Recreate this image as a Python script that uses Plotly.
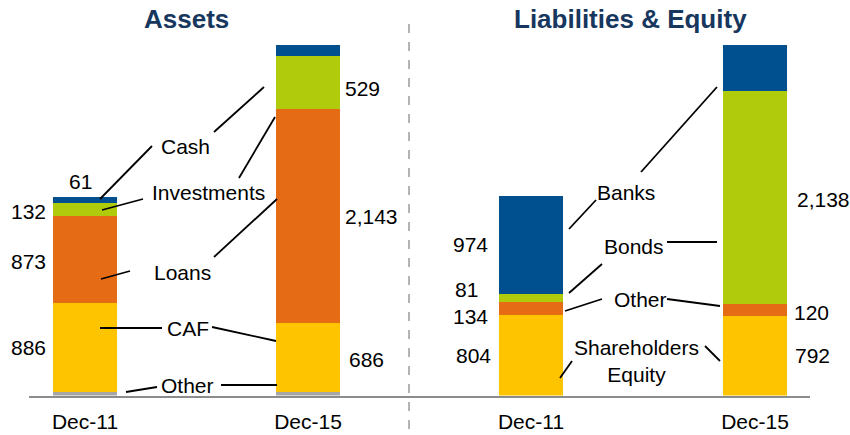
import plotly.graph_objects as go

# ---------------- data ----------------
categories = ["Dec-11", "Dec-15"]

assets_other = [35, 35]
assets_caf = [886, 686]
assets_loans = [873, 2143]
assets_investments = [132, 529]
assets_cash = [61, 110]

liab_equity = [804, 792]
liab_other = [134, 120]
liab_bonds = [81, 2138]
liab_banks = [974, 453]

# ---------------- styles ----------------
W, H = 850, 435
YELLOW = "#FFC400"
ORANGE = "#E56B14"
GREEN = "#B0CB0C"
BLUE = "#00508F"
GREY = "#A6A6A6"
FONT = "Arial, Liberation Sans, sans-serif"
FS = 21
BAR_W = 0.285

fig = go.Figure()

assets_series = [("Other", assets_other, GREY), ("CAF", assets_caf, YELLOW),
                 ("Loans", assets_loans, ORANGE), ("Investments", assets_investments, GREEN),
                 ("Cash", assets_cash, BLUE)]
liab_series = [("Shareholders Equity", liab_equity, YELLOW), ("Other", liab_other, ORANGE),
               ("Bonds", liab_bonds, GREEN), ("Banks", liab_banks, BLUE)]

for name, vals, col in assets_series:
    fig.add_trace(go.Bar(x=categories, y=vals, name=name, marker_color=col,
                         marker_line_width=0, width=BAR_W, xaxis="x", yaxis="y",
                         showlegend=False, hoverinfo="skip"))
for name, vals, col in liab_series:
    fig.add_trace(go.Bar(x=categories, y=vals, name=name, marker_color=col,
                         marker_line_width=0, width=BAR_W, xaxis="x2", yaxis="y2",
                         showlegend=False, hoverinfo="skip"))

# ---------------- value labels (placed from data) ----------------
def mids(series_list):
    out = []
    for i in range(len(categories)):
        base = 0
        col = []
        for _, vals, _ in series_list:
            col.append(base + vals[i] / 2)
            base += vals[i]
        out.append((col, base))
    return out

annots = []

def val_label(xref, yref, cat_idx, y, v, side, xshift, yshift=0):
    annots.append(dict(
        x=cat_idx + (-BAR_W / 2 if side == "left" else BAR_W / 2), y=y,
        xref=xref, yref=yref, text=f"{v:,}", showarrow=False,
        xanchor="right" if side == "left" else "left", yanchor="middle",
        xshift=xshift, yshift=yshift, font=dict(family=FONT, size=FS, color="#000")))

am = mids(assets_series)
# Dec-11 assets (left side)
val_label("x", "y", 0, am[0][0][1], assets_caf[0], "left", -5)
val_label("x", "y", 0, am[0][0][2], assets_loans[0], "left", -5, -2)
val_label("x", "y", 0, am[0][0][3], assets_investments[0], "left", -5, -2)
annots.append(dict(x=0, y=am[0][1], xref="x", yref="y", text=f"{assets_cash[0]:,}",
                   showarrow=False, xanchor="center", yanchor="bottom", xshift=-4, yshift=2,
                   font=dict(family=FONT, size=FS, color="#000")))
# Dec-15 assets (right side)
val_label("x", "y", 1, am[1][0][1], assets_caf[1], "right", 7, -2)
val_label("x", "y", 1, am[1][0][2], assets_loans[1], "right", 3)
val_label("x", "y", 1, am[1][0][3], assets_investments[1], "right", 3, -6)

lm = mids(liab_series)
val_label("x2", "y2", 0, lm[0][0][0], liab_equity[0], "left", -6)
val_label("x2", "y2", 0, lm[0][0][1], liab_other[0], "left", -9, -8)
val_label("x2", "y2", 0, lm[0][0][2], liab_bonds[0], "left", -19, 8)
val_label("x2", "y2", 0, lm[0][0][3], liab_banks[0], "left", -9)
val_label("x2", "y2", 1, lm[1][0][0], liab_equity[1], "right", 6)
val_label("x2", "y2", 1, lm[1][0][1], liab_other[1], "right", 5, -2)
val_label("x2", "y2", 1, lm[1][0][2], liab_bonds[1], "right", 8, -2)

# ---------------- series name labels and leader lines (paper px) ----------------
def P(x, y):
    return x / W, 1 - y / H

def name_label(text, x, y):
    px, py = P(x, y)
    annots.append(dict(x=px, y=py, xref="paper", yref="paper", text=text, showarrow=False,
                       xanchor="center", yanchor="middle",
                       font=dict(family=FONT, size=FS, color="#000")))

name_label("Cash", 185, 146)
name_label("Investments", 208, 192)
name_label("Loans", 182, 272)
name_label("CAF", 188, 328)
name_label("Other", 187, 385)
name_label("Banks", 626, 193)
name_label("Bonds", 634, 246)
name_label("Other", 640, 299)
name_label("Shareholders<br>Equity", 636, 361)

# titles
for text, x in [("Assets", 186), ("Liabilities &amp; Equity", 630)]:
    px, py = P(x, 19)
    annots.append(dict(x=px, y=py, xref="paper", yref="paper", text=f"<b>{text}</b>",
                       showarrow=False, xanchor="center", yanchor="middle",
                       font=dict(family=FONT, size=26, color="#17375E")))

leaders = [
    (100, 199, 152, 146), (214, 132, 264, 87),
    (102, 210, 143, 199), (239, 178, 275, 117),
    (101, 279, 130, 271), (214, 257, 277, 199),
    (100, 328, 162, 328), (212, 327, 276, 341),
    (126, 392, 157, 387), (221, 385, 277, 385),
    (569, 229, 596, 200), (641, 172, 717, 87),
    (569, 293, 602, 264), (667, 242, 717, 242),
    (565, 311, 602, 299), (667, 299, 720, 306),
    (560, 378, 572, 361), (705, 346, 720, 361),
]
shapes = []
for x0, y0, x1, y1 in leaders:
    a, b = P(x0, y0)
    c, d = P(x1, y1)
    shapes.append(dict(type="line", xref="paper", yref="paper", x0=a, y0=b, x1=c, y1=d,
                       line=dict(color="#000", width=1.8)))

# divider
a, b = P(409, 24)
c, d = P(409, 435)
shapes.append(dict(type="line", xref="paper", yref="paper", x0=a, y0=b, x1=c, y1=d,
                   line=dict(color="#9A9A9A", width=1.5, dash="dash")))

# ---------------- axes ----------------
y_dom = [1 - 395.5 / H, 1]
y_range = [0, 3955]
axis_common = dict(type="category", showline=True, linecolor="#8C8C8C", linewidth=2,
                   showgrid=False, zeroline=False, ticks="", ticklabelstandoff=6,
                   tickfont=dict(family=FONT, size=FS, color="#000"), fixedrange=True)
yaxis_common = dict(range=y_range, domain=y_dom, showgrid=False, zeroline=False,
                    showline=False, showticklabels=False, fixedrange=True)

fig.update_layout(
    width=W, height=H,
    margin=dict(l=0, r=0, t=0, b=0),
    paper_bgcolor="white", plot_bgcolor="white",
    barmode="stack", bargap=0,
    font=dict(family=FONT),
    xaxis=dict(axis_common, domain=[29 / W, 409 / W], range=[-0.2511, 1.453], anchor="y"),
    xaxis2=dict(axis_common, domain=[409 / W, 810 / W], range=[-0.5446, 1.2455], anchor="y2"),
    yaxis=dict(yaxis_common, anchor="x"),
    yaxis2=dict(yaxis_common, anchor="x2"),
    annotations=annots,
    shapes=shapes,
)

fig.write_html("out.html", config={"displayModeBar": False},
               post_script="document.body.style.margin='0px';document.body.style.overflow='hidden';")
